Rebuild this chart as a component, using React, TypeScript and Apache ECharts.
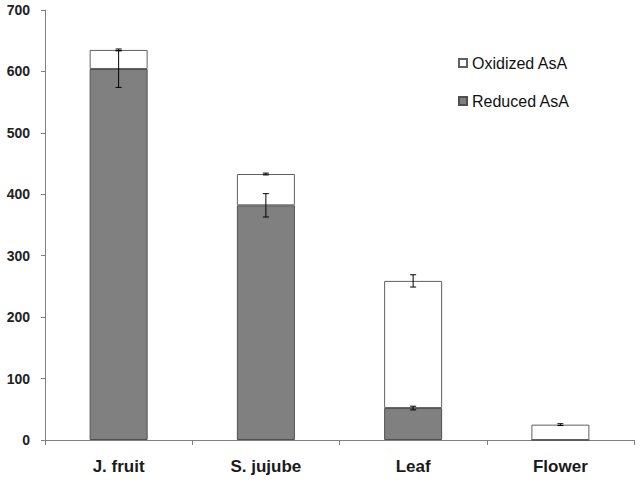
import React, { useEffect, useRef } from "react";
import * as echarts from "echarts";

const categories = ["J. fruit", "S. jujube", "Leaf", "Flower"];
const reducedValues = [604, 382, 52, 0];
const reducedErrors = [30, 19, 3, 0];
const oxidizedValues = [31, 51, 207, 25];
const oxidizedErrors = [1.5, 1.5, 10, 1.5];
const yTicks = [0, 100, 200, 300, 400, 500, 600, 700];

const FONT = "'Liberation Sans', Arial, sans-serif";

export default function App() {
  const ref = useRef<HTMLDivElement>(null);
  useEffect(() => {
    if (!ref.current) return;
    const chart = echarts.init(ref.current, undefined, { renderer: "svg" });

    const errData: number[][] = [];
    categories.forEach((_, i) => {
      if (reducedErrors[i] > 0) errData.push([i, reducedValues[i], reducedErrors[i]]);
      errData.push([i, reducedValues[i] + oxidizedValues[i], oxidizedErrors[i]]);
    });

    chart.setOption({
      animation: false,
      grid: { left: 45, right: 6, top: 10, bottom: 44, containLabel: false },
      legend: {
        orient: "vertical",
        left: 453,
        top: 50,
        itemWidth: 8,
        itemHeight: 8,
        itemGap: 22,
        icon: "rect",
        data: ["Oxidized AsA", "Reduced AsA"],
        textStyle: { fontFamily: FONT, fontSize: 16, color: "#111" },
      },
      xAxis: {
        type: "category",
        data: categories,
        axisLine: { lineStyle: { color: "#808080", width: 1 } },
        axisTick: { show: true, length: 5, lineStyle: { color: "#808080" } },
        axisLabel: {
          fontFamily: FONT,
          fontSize: 17,
          fontWeight: "bold",
          color: "#1a1a1a",
          margin: 18,
        },
      },
      yAxis: {
        type: "value",
        min: yTicks[0],
        max: yTicks[yTicks.length - 1],
        interval: 100,
        axisLine: { show: true, lineStyle: { color: "#808080", width: 1 } },
        axisTick: { show: true, length: 4, lineStyle: { color: "#808080" } },
        splitLine: { show: false },
        axisLabel: {
          fontFamily: FONT,
          fontSize: 14,
          fontWeight: "bold",
          color: "#222",
          margin: 15,
        },
      },
      series: [
        {
          name: "Reduced AsA",
          type: "bar",
          stack: "asa",
          data: reducedValues,
          barWidth: 58,
          itemStyle: { color: "#808080", borderColor: "#505050", borderWidth: 1 },
        },
        {
          name: "Oxidized AsA",
          type: "bar",
          stack: "asa",
          data: oxidizedValues,
          barWidth: 58,
          itemStyle: { color: "#ffffff", borderColor: "#606060", borderWidth: 1 },
        },
        {
          type: "custom",
          name: "err",
          data: errData,
          z: 10,
          renderItem: (params: any, api: any) => {
            const x = api.value(0);
            const c = api.value(1);
            const e = api.value(2);
            const hi = api.coord([x, c + e]);
            const lo = api.coord([x, c - e]);
            const w = 3;
            const style = { stroke: "#000", lineWidth: 1 };
            return {
              type: "group",
              children: [
                { type: "line", shape: { x1: hi[0], y1: hi[1], x2: lo[0], y2: lo[1] }, style },
                { type: "line", shape: { x1: hi[0] - w, y1: hi[1], x2: hi[0] + w, y2: hi[1] }, style },
                { type: "line", shape: { x1: lo[0] - w, y1: lo[1], x2: lo[0] + w, y2: lo[1] }, style },
              ],
            };
          },
        },
      ],
    });
    return () => chart.dispose();
  }, []);
  return <div ref={ref} style={{ width: 640, height: 484, position: "absolute", left: 0, top: 0, background: "#fff" }} />;
}
